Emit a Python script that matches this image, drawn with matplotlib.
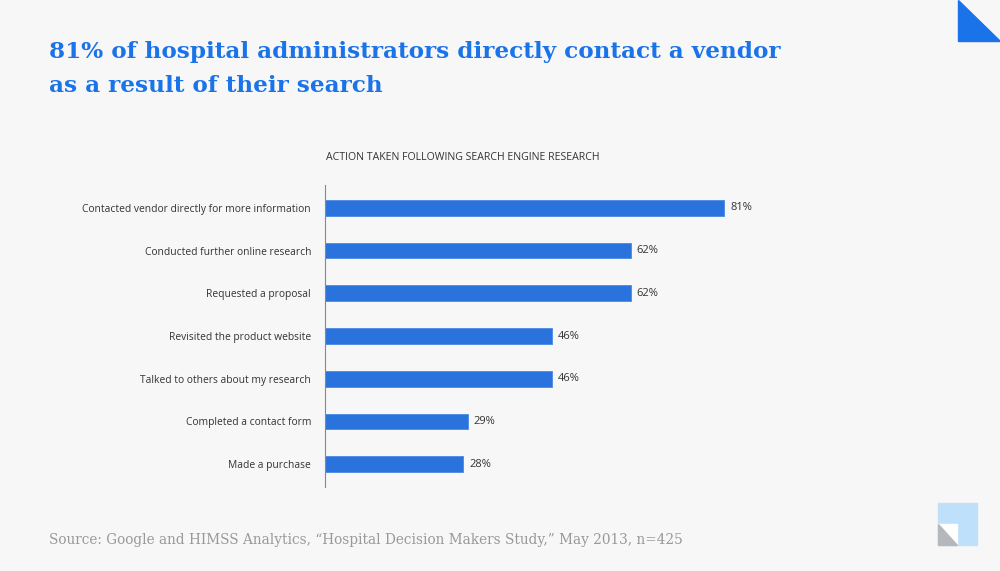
import matplotlib.pyplot as plt
from matplotlib.patches import Polygon, Rectangle

categories = [
    'Contacted vendor directly for more information',
    'Conducted further online research',
    'Requested a proposal',
    'Revisited the product website',
    'Talked to others about my research',
    'Completed a contact form',
    'Made a purchase',
]
values = [81, 62, 62, 46, 46, 29, 28]

title = '81% of hospital administrators directly contact a vendor\nas a result of their search'
subtitle = 'ACTION TAKEN FOLLOWING SEARCH ENGINE RESEARCH'
source = 'Source: Google and HIMSS Analytics, \u201cHospital Decision Makers Study,\u201d May 2013, n=425'

bg = '#f7f7f7'
blue = '#1a73e8'

fig = plt.figure(figsize=(10, 5.71), dpi=100, facecolor=bg)

ax = fig.add_axes([0.325, 0.147, 0.493, 0.529])
ax.set_facecolor(bg)
y = list(range(len(categories)))
ax.barh(y, values, height=0.37, color='#2a72dc', edgecolor='#4a8ae6', linewidth=0.6)
for yi, v in zip(y, values):
    ax.text(v + 1.2, yi, f'{v}%', va='center', ha='left', fontsize=8,
            family='Open Sans', color='#333333')
ax.set_xlim(0, 100)
ax.set_ylim(len(categories) - 0.465, -0.535)
ax.set_yticks(y)
ax.set_yticklabels(categories, fontsize=7.4, family='Open Sans', color='#333333')
ax.tick_params(axis='y', length=0, pad=10)
ax.set_xticks([])
for s in ['top', 'right', 'bottom']:
    ax.spines[s].set_visible(False)
ax.spines['left'].set_color('#888888')
ax.spines['left'].set_linewidth(0.8)

fig.text(0.326, 1 - 158 / 571, subtitle, fontsize=7.6, family='Open Sans',
         color='#333333', va='center', ha='left')

fig.text(0.049, 1 - 41 / 571, title, fontsize=16.7, family='DejaVu Serif',
         fontweight='bold', color=blue, va='top', ha='left', linespacing=1.72)

fig.text(0.049, 1 - 540 / 571, source, fontsize=9.8, family='DejaVu Serif',
         color='#999999', va='center', ha='left')

# corner decorations
W, H = 1000, 571
def pt(x, yy):
    return (x / W, 1 - yy / H)

fig.patches.append(Polygon([pt(958, 0), pt(958, 41), pt(1000, 41)], closed=True,
                           transform=fig.transFigure, color=blue))
fig.patches.append(Rectangle(pt(938, 545), 39 / W, 42 / H, transform=fig.transFigure,
                             color='#bfe0fb'))
fig.patches.append(Rectangle(pt(938, 545), 19 / W, 21 / H, transform=fig.transFigure,
                             color='#ffffff'))
fig.patches.append(Polygon([pt(938, 524), pt(938, 545), pt(957, 545)], closed=True,
                           transform=fig.transFigure, color='#b4b7bb'))

fig.savefig('out.png', dpi=100, facecolor=bg)
